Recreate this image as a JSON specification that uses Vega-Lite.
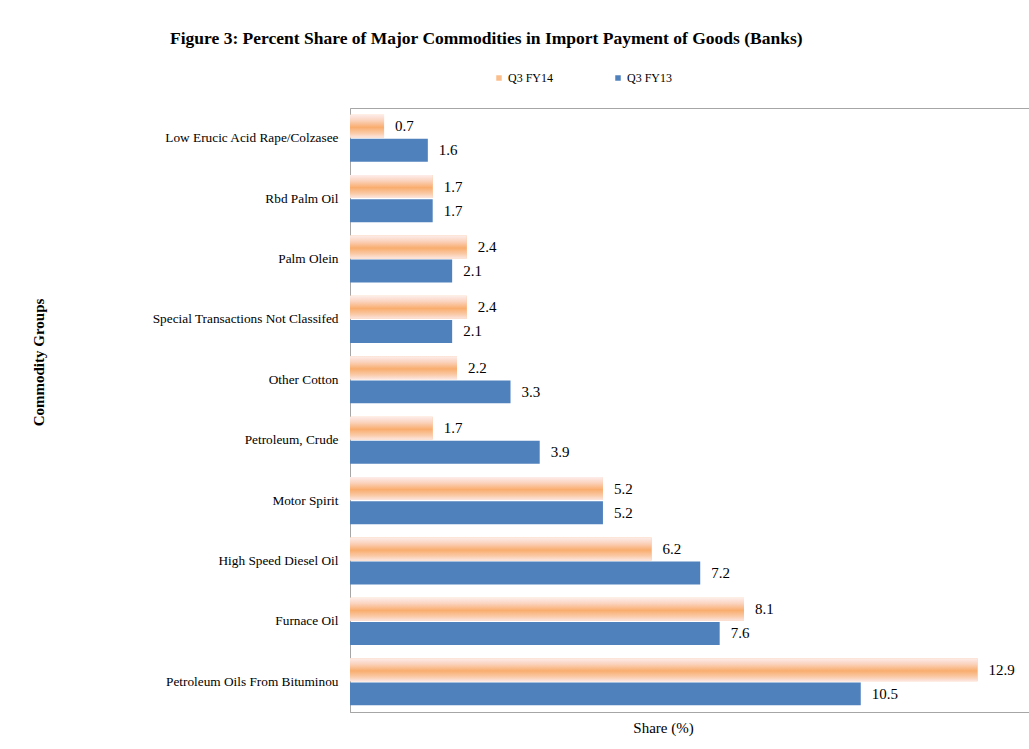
{
  "$schema": "https://vega.github.io/schema/vega-lite/v6.json",
  "autosize": {"type": "none"},
  "width": 681,
  "height": 604,
  "padding": {"left": 350, "top": 108, "right": 0, "bottom": 37},
  "background": "white",
  "title": {
    "text": "Figure  3: Percent Share of Major Commodities in Import Payment of Goods (Banks)",
    "font": "Liberation Serif",
    "fontSize": 17.5,
    "fontWeight": "bold",
    "color": "#000000",
    "anchor": "start",
    "frame": "group",
    "dx": -180,
    "offset": 25
  },
  "config": {
    "view": {"stroke": "#a6a6a6", "strokeWidth": 1},
    "font": "Liberation Serif"
  },
  "data": {
    "values": [
      {"commodity": "Low Erucic Acid Rape/Colzasee", "series": "Q3 FY14", "share": 0.7},
      {"commodity": "Low Erucic Acid Rape/Colzasee", "series": "Q3 FY13", "share": 1.6},
      {"commodity": "Rbd Palm Oil", "series": "Q3 FY14", "share": 1.7},
      {"commodity": "Rbd Palm Oil", "series": "Q3 FY13", "share": 1.7},
      {"commodity": "Palm Olein", "series": "Q3 FY14", "share": 2.4},
      {"commodity": "Palm Olein", "series": "Q3 FY13", "share": 2.1},
      {"commodity": "Special Transactions Not Classifed", "series": "Q3 FY14", "share": 2.4},
      {"commodity": "Special Transactions Not Classifed", "series": "Q3 FY13", "share": 2.1},
      {"commodity": "Other Cotton", "series": "Q3 FY14", "share": 2.2},
      {"commodity": "Other Cotton", "series": "Q3 FY13", "share": 3.3},
      {"commodity": "Petroleum, Crude", "series": "Q3 FY14", "share": 1.7},
      {"commodity": "Petroleum, Crude", "series": "Q3 FY13", "share": 3.9},
      {"commodity": "Motor Spirit", "series": "Q3 FY14", "share": 5.2},
      {"commodity": "Motor Spirit", "series": "Q3 FY13", "share": 5.2},
      {"commodity": "High Speed Diesel Oil", "series": "Q3 FY14", "share": 6.2},
      {"commodity": "High Speed Diesel Oil", "series": "Q3 FY13", "share": 7.2},
      {"commodity": "Furnace Oil", "series": "Q3 FY14", "share": 8.1},
      {"commodity": "Furnace Oil", "series": "Q3 FY13", "share": 7.6},
      {"commodity": "Petroleum Oils From Bituminou", "series": "Q3 FY14", "share": 12.9},
      {"commodity": "Petroleum Oils From Bituminou", "series": "Q3 FY13", "share": 10.5}
    ]
  },
  "encoding": {
    "y": {
      "field": "commodity",
      "type": "nominal",
      "sort": null,
      "scale": {"paddingInner": 0.22, "paddingOuter": 0.11},
      "axis": {
        "title": "Commodity Groups",
        "titleFont": "Liberation Serif",
        "titleFontSize": 15,
        "titleFontWeight": "bold",
        "titleColor": "#000000",
        "titleAngle": -90,
        "titleX": -312,
        "titleY": 254,
        "titleAlign": "center",
        "titleBaseline": "middle",
        "labelFont": "Liberation Serif",
        "labelFontSize": 13.3,
        "labelColor": "#000000",
        "labelPadding": 12,
        "labelLimit": 330,
        "ticks": false,
        "domainColor": "#a6a6a6"
      }
    },
    "yOffset": {
      "field": "series",
      "type": "nominal",
      "scale": {"domain": ["Q3 FY14", "Q3 FY13"], "paddingInner": 0.05}
    },
    "x": {
      "field": "share",
      "type": "quantitative",
      "scale": {"domain": [0, 14], "nice": false},
      "axis": {
        "title": "Share (%)",
        "titleFont": "Liberation Serif",
        "titleFontSize": 15,
        "titleFontWeight": "normal",
        "titleColor": "#000000",
        "titleX": 313,
        "titlePadding": 8,
        "labels": false,
        "ticks": false,
        "grid": false,
        "domainColor": "#a6a6a6"
      }
    }
  },
  "layer": [
    {
      "mark": {"type": "bar"},
      "encoding": {
        "color": {
          "field": "series",
          "type": "nominal",
          "scale": {"domain": ["Q3 FY14", "Q3 FY13"], "range": ["#F9BE8C", "#4F81BD"]},
          "legend": {
            "title": null,
            "orient": "none",
            "direction": "horizontal",
            "columns": 2,
            "legendX": 143,
            "legendY": -36,
            "symbolType": "square",
            "symbolSize": 30,
            "symbolStrokeWidth": 0,
            "labelFont": "Liberation Serif",
            "labelFontSize": 12,
            "labelColor": "#000000",
            "labelOffset": 3,
            "columnPadding": 58
          }
        }
      }
    },
    {
      "transform": [{"filter": "datum.series === 'Q3 FY14'"}],
      "mark": {
        "type": "bar",
        "color": {
          "gradient": "linear",
          "x1": 0, "y1": 0, "x2": 0, "y2": 1,
          "stops": [
            {"offset": 0, "color": "#FDEDEB"},
            {"offset": 0.25, "color": "#FBD3BE"},
            {"offset": 0.55, "color": "#F9AD6E"},
            {"offset": 0.8, "color": "#FAC9A6"},
            {"offset": 1, "color": "#FCE6E0"}
          ]
        }
      }
    },
    {
      "mark": {
        "type": "text",
        "align": "left",
        "baseline": "middle",
        "dx": 11,
        "font": "Liberation Serif",
        "fontSize": 15,
        "color": "#000000"
      },
      "encoding": {
        "text": {"field": "share", "type": "quantitative", "format": ".1f"}
      }
    }
  ]
}
